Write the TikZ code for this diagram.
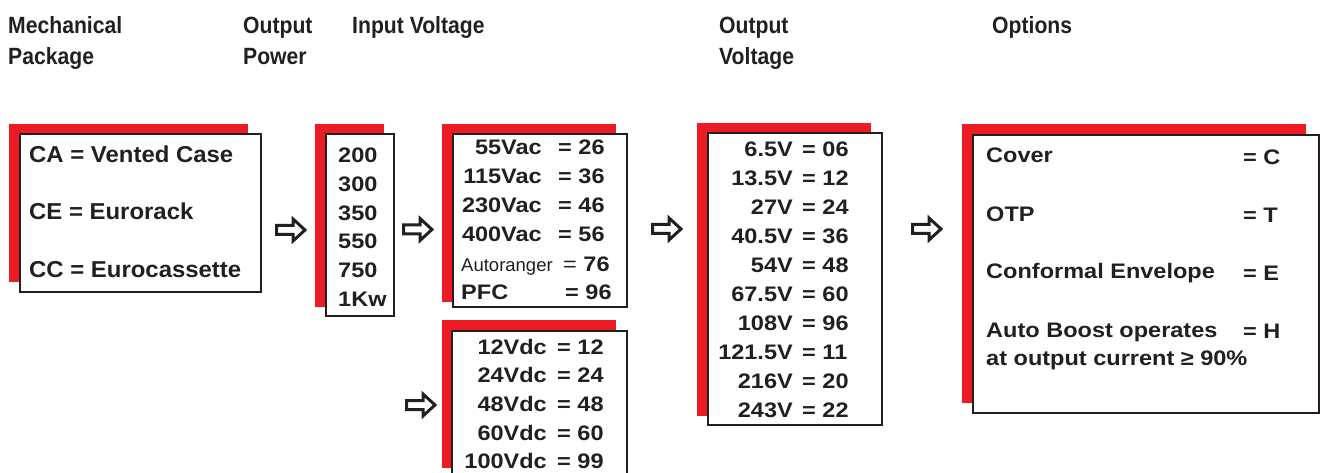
\documentclass[tikz,border=0pt]{standalone}
\usepackage{fontspec}
\setmainfont{Liberation Sans}
\newfontfamily\hdfont{Liberation Sans}[FakeStretch=0.9]
\newfontfamily\boxfont{Liberation Sans}[FakeStretch=1.12]
\newfontfamily\mechfont{Liberation Sans}[FakeStretch=1.04]
\definecolor{redbk}{RGB}{237,28,36}
\definecolor{ink}{RGB}{35,31,32}
\tikzset{
  hd/.style={font=\hdfont\bfseries\fontsize{23.5}{31}\selectfont, text=ink, inner sep=0pt, anchor=base west},
  bt/.style={font=\boxfont\bfseries\fontsize{21}{29}\selectfont, text=ink, inner sep=0pt},
  mt/.style={font=\mechfont\bfseries\fontsize{23}{30}\selectfont, text=ink, inner sep=0pt, anchor=base west},
  shadowbox/.style={fill=redbk},
  framebox/.style={draw=ink, line width=2pt, fill=white},
  blockarrow/.pic={\draw[ink, line width=3pt, line join=miter, fill=white]
     (-28.5,-4.5) -- (-12,-4.5) -- (-12,-11) -- (0,0) -- (-12,11) -- (-12,4.5) -- (-28.5,4.5) -- cycle;}
}
\begin{document}
\begin{tikzpicture}[x=1pt,y=-1pt]
\useasboundingbox (0,0) rectangle (1320,473);
\clip (0,0) rectangle (1320,473);
% headers
\node[hd] (hmech1) at (8,34) {Mechanical};
\node[hd] (hmech2) at (8,65) {Package};
\node[hd] (hpow1) at (243,34) {Output};
\node[hd] (hpow2) at (243,65) {Power};
\node[hd] (hin) at (352,34) {Input Voltage};
\node[hd] (hout1) at (719,34) {Output};
\node[hd] (hout2) at (719,65) {Voltage};
\node[hd] (hopt) at (992,34) {Options};
% mechanical package box
\fill[shadowbox] (9,124) rectangle (248,282);
\draw[framebox] (20,134) rectangle (261,292);
\node[mt] (mca) at (29,163) {CA = Vented Case};
\node[mt] (mce) at (29,220) {CE = Eurorack};
\node[mt] (mcc) at (29,277) {CC = Eurocassette};
% output power box
\fill[shadowbox] (315,124) rectangle (384,307);
\draw[framebox] (326,134) rectangle (394,316);
\foreach \t [count=\i] in {200,300,350,550,750,1Kw}
  \node[bt, anchor=base west] (pw\i) at (338,{163+28.6*(\i-1)}) {\t};
% input voltage AC box
\fill[shadowbox] (442,124) rectangle (616,302);
\draw[framebox] (453,134) rectangle (627,307);
\foreach \l/\v [count=\i] in {55Vac/26,115Vac/36,230Vac/46,400Vac/56}{
  \node[bt, anchor=base east] (ac\i) at (542,{155+29*(\i-1)}) {\l};
  \node[bt, anchor=base west] (acv\i) at (558,{155+29*(\i-1)}) {= \v};
}
\node[font=\fontsize{18.5}{22}\selectfont, text=ink, inner sep=0pt, anchor=base west] (acauto) at (461,271) {Autoranger};
\node[bt, anchor=base west] (acautov) at (563,271) {{\mdseries =} 76};
\node[bt, anchor=base west] (acpfc) at (461,299) {PFC};
\node[bt, anchor=base west] (acpfcv) at (565,299) {= 96};
% input voltage DC box
\fill[shadowbox] (442,320) rectangle (616,468);
\draw[framebox] (452,331) rectangle (627,490);
\foreach \l/\v [count=\i] in {12Vdc/12,24Vdc/24,48Vdc/48,60Vdc/60,100Vdc/99}{
  \node[bt, anchor=base east] (dc\i) at (547,{354+28.7*(\i-1)}) {\l};
  \node[bt, anchor=base west] (dcv\i) at (557,{354+28.7*(\i-1)}) {= \v};
}
% output voltage box
\fill[shadowbox] (697,123) rectangle (871,416);
\draw[framebox] (708,133) rectangle (882,425);
\foreach \l/\v [count=\i] in {6.5V/06,13.5V/12,27V/24,40.5V/36,54V/48,67.5V/60,108V/96,121.5V/11,216V/20,243V/22}{
  \node[bt, anchor=base east] (ov\i) at (793,{157+28.9*(\i-1)}) {\l};
  \node[bt, anchor=base west] (ovv\i) at (802,{157+28.9*(\i-1)}) {= \v};
}
% options box
\fill[shadowbox] (962,124) rectangle (1306,403);
\draw[framebox] (973,135) rectangle (1319,413);
\node[bt, anchor=base west] (opc) at (986,163) {Cover};
\node[bt, anchor=base west] (opt) at (986,222) {OTP};
\node[bt, anchor=base west] (ope) at (986,278) {Conformal Envelope};
\node[bt, anchor=base west] (oph) at (986,337) {Auto Boost operates};
\node[bt, anchor=base west] (oph2) at (986,365) {at output current ≥ 90\%};
\node[bt, anchor=base west] (opcv) at (1243,165) {= C};
\node[bt, anchor=base west] (optv) at (1243,223) {= T};
\node[bt, anchor=base west] (opev) at (1243,280) {= E};
\node[bt, anchor=base west] (ophv) at (1243,338) {= H};
% arrows
\pic at (305,230) {blockarrow};
\pic at (432,229.5) {blockarrow};
\pic at (435,405) {blockarrow};
\pic at (681,229) {blockarrow};
\pic at (941,229) {blockarrow};
\end{tikzpicture}
\end{document}
